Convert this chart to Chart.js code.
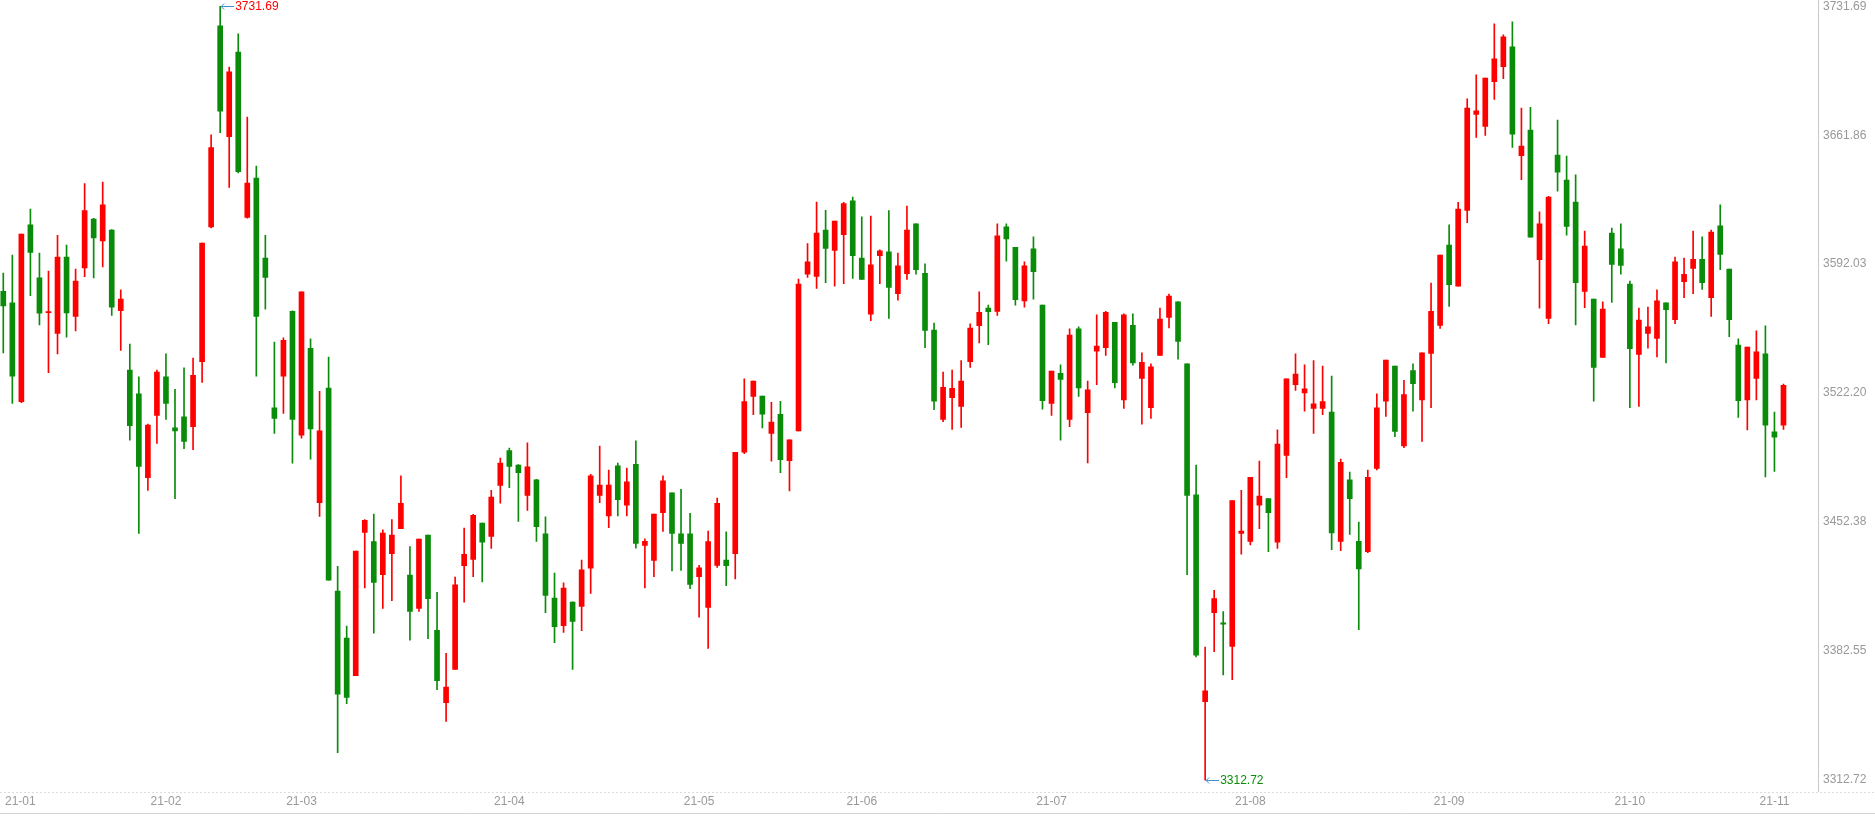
<!DOCTYPE html>
<html>
<head>
<meta charset="utf-8">
<script src="https://cdn.jsdelivr.net/npm/chart.js@4.4.1/dist/chart.umd.min.js"></script>
<style>
html,body{margin:0;padding:0;background:#fff;}
#wrap{width:1875px;height:816px;position:relative;}
</style>
</head>
<body>
<div id="wrap"><canvas id="c"></canvas></div>
<script>
// ---- categories (trading days, 2021) ----
const dates = [
'01-06','01-07','01-08','01-11','01-12','01-13','01-14','01-15','01-18','01-19','01-20','01-21','01-22','01-25','01-26','01-27','01-28','01-29',
'02-01','02-02','02-03','02-04','02-05','02-08','02-09','02-10','02-18','02-19','02-22','02-23','02-24','02-25','02-26',
'03-01','03-02','03-03','03-04','03-05','03-08','03-09','03-10','03-11','03-12','03-15','03-16','03-17','03-18','03-19','03-22','03-23','03-24','03-25','03-26','03-29','03-30','03-31',
'04-01','04-02','04-06','04-07','04-08','04-09','04-12','04-13','04-14','04-15','04-16','04-19','04-20','04-21','04-22','04-23','04-26','04-27','04-28','04-29','04-30',
'05-06','05-07','05-10','05-11','05-12','05-13','05-14','05-17','05-18','05-19','05-20','05-21','05-24','05-25','05-26','05-27','05-28','05-31',
'06-01','06-02','06-03','06-04','06-07','06-08','06-09','06-10','06-11','06-15','06-16','06-17','06-18','06-21','06-22','06-23','06-24','06-25','06-28','06-29','06-30',
'07-01','07-02','07-05','07-06','07-07','07-08','07-09','07-12','07-13','07-14','07-15','07-16','07-19','07-20','07-21','07-22','07-23','07-26','07-27','07-28','07-29','07-30',
'08-02','08-03','08-04','08-05','08-06','08-09','08-10','08-11','08-12','08-13','08-16','08-17','08-18','08-19','08-20','08-23','08-24','08-25','08-26','08-27','08-30','08-31',
'09-01','09-02','09-03','09-06','09-07','09-08','09-09','09-10','09-13','09-14','09-15','09-16','09-17','09-22','09-23','09-24','09-27','09-28','09-29','09-30',
'10-08','10-11','10-12','10-13','10-14','10-15','10-18','10-19','10-20','10-21','10-22','10-25','10-26','10-27','10-28','10-29',
'11-01','11-02'
];
const yearPrefix = '21';

// ---- series values ----
const opens = [
3577.3,3571.1,3517.6,3613.3,3584.6,3565.8,3554.5,3595.9,3563.8,3590.0,3616.5,3604.6,3610.5,3566.9,3534.7,3521.8,3476.4,3510.2,
3531.1,3503.4,3509.4,3504.0,3539.2,3612.2,3721.0,3661.0,3706.9,3617.3,3638.7,3595.3,3514.2,3531.4,3566.5,
3499.5,3546.5,3462.9,3524.9,3415.0,3389.6,3369.3,3446.8,3441.8,3424.0,3435.3,3448.8,3423.7,3405.7,3445.4,3393.8,3354.7,3372.7,3428.8,3432.2,3451.9,3444.6,3472.2,
3491.1,3483.2,3466.8,3475.3,3446.0,3411.3,3396.3,3409.1,3406.8,3427.4,3466.8,3455.8,3482.9,3461.5,3483.7,3439.8,3431.6,3457.5,3468.2,3446.0,3446.0,
3422.8,3406.2,3429.0,3431.9,3435.3,3490.2,3520.4,3520.6,3500.4,3510.8,3485.7,3501.8,3586.6,3585.4,3610.5,3599.5,3608.0,3626.3,
3595.3,3564.9,3596.7,3598.7,3576.1,3586.9,3613.9,3587.1,3556.4,3508.0,3519.8,3515.0,3539.2,3558.7,3568.2,3566.5,3612.2,3601.2,3572.2,3600.4,3569.9,
3516.7,3533.0,3508.0,3557.0,3511.6,3544.9,3546.8,3560.6,3518.6,3558.9,3530.2,3514.4,3542.6,3563.2,3571.6,3538.1,3467.1,3355.2,3403.4,3397.8,3385.1,3446.3,
3442.0,3461.5,3465.1,3441.5,3488.5,3526.8,3522.3,3513.9,3513.9,3511.9,3442.0,3475.3,3442.0,3436.4,3481.5,3517.8,3536.9,3493.6,3534.4,3518.6,3543.7,3558.9,
3602.4,3580.1,3621.2,3673.1,3666.6,3690.8,3699.0,3709.7,3650.8,3664.6,3594.5,3562.6,3651.1,3637.6,3625.7,3577.3,3573.1,3541.5,3608.8,3600.4,
3581.2,3543.2,3554.5,3551.9,3571.1,3562.0,3582.6,3589.7,3594.7,3573.9,3612.8,3589.4,3548.2,3518.6,3530.2,3543.5,
3501.2,3504.9
];
const highs = [
3587.2,3597.0,3608.3,3621.8,3598.1,3588.3,3607.7,3602.4,3589.4,3635.6,3616.8,3636.5,3610.8,3578.1,3548.8,3531.1,3505.4,3534.7,
3543.5,3524.3,3535.9,3541.2,3603.5,3662.1,3731.69,3698.7,3716.8,3671.7,3645.2,3607.7,3549.9,3552.2,3566.8,
3577.0,3551.6,3523.2,3541.8,3428.5,3396.1,3436.7,3453.8,3456.7,3448.2,3453.8,3477.5,3439.2,3443.2,3445.4,3414.4,3381.4,3422.6,3449.1,3456.6,3451.9,3469.6,3487.1,
3492.5,3483.5,3495.3,3475.5,3455.3,3424.8,3419.5,3409.3,3431.9,3478.3,3493.6,3480.6,3484.3,3481.7,3496.4,3443.4,3456.7,3477.5,3468.2,3470.2,3457.2,
3429.0,3447.6,3465.4,3447.1,3490.2,3529.9,3528.8,3520.6,3517.2,3517.8,3497.0,3584.0,3603.2,3625.7,3621.2,3615.3,3625.5,3628.3,
3617.6,3618.1,3599.8,3621.0,3598.1,3623.5,3613.9,3592.2,3560.1,3533.6,3534.7,3539.8,3559.8,3577.0,3569.9,3613.9,3613.9,3601.2,3593.3,3606.9,3569.9,
3534.2,3537.5,3557.0,3558.1,3528.8,3564.6,3566.5,3560.6,3565.2,3565.2,3544.0,3538.1,3568.2,3575.9,3571.6,3538.1,3483.2,3384.8,3415.5,3404.0,3464.0,3469.6,
3476.7,3485.4,3465.1,3502.3,3529.9,3543.5,3537.5,3539.8,3536.9,3531.4,3486.5,3479.5,3452.4,3480.6,3521.8,3540.1,3536.9,3529.1,3538.1,3544.0,3581.8,3597.0,
3613.3,3625.5,3681.5,3694.5,3692.8,3722.1,3716.2,3723.2,3676.5,3677.0,3620.4,3628.8,3670.0,3650.5,3640.4,3609.9,3573.1,3571.6,3611.6,3613.9,
3582.9,3568.2,3568.8,3578.1,3571.1,3595.9,3595.3,3609.9,3606.9,3610.5,3624.1,3589.4,3551.6,3547.1,3555.9,3558.7,
3511.9,3527.1
];
const lows = [
3544.0,3516.7,3517.0,3575.0,3559.2,3533.3,3543.5,3552.5,3555.9,3585.2,3584.6,3590.5,3564.3,3545.4,3496.7,3446.3,3469.6,3495.0,
3508.0,3465.1,3492.2,3491.6,3528.0,3611.6,3663.2,3633.6,3641.5,3617.0,3531.4,3567.7,3500.4,3511.3,3484.3,
3497.8,3486.5,3455.5,3420.9,3327.6,3354.1,3369.3,3416.7,3392.2,3405.7,3409.9,3448.8,3388.5,3404.0,3389.3,3361.7,3344.5,3372.7,3409.1,3422.8,3420.0,3438.1,3462.6,
3471.1,3452.7,3458.7,3442.0,3403.4,3387.1,3392.7,3372.7,3393.6,3413.8,3462.9,3449.4,3455.8,3455.8,3438.3,3416.7,3422.8,3447.4,3426.0,3426.2,3416.4,
3400.9,3384.0,3427.9,3418.0,3421.7,3489.4,3510.5,3503.4,3485.4,3479.2,3469.3,3501.8,3584.9,3578.9,3582.0,3580.1,3581.5,3584.3,
3583.8,3561.5,3581.5,3562.6,3572.5,3583.8,3586.6,3546.8,3513.3,3506.8,3502.6,3503.7,3536.1,3549.4,3548.5,3564.3,3593.6,3569.9,3568.8,3573.1,3513.6,
3510.2,3496.7,3504.0,3520.4,3484.5,3526.8,3542.6,3525.1,3513.9,3537.3,3505.4,3508.5,3542.6,3557.5,3540.6,3424.0,3379.4,3312.72,3382.3,3369.6,3367.1,3435.0,
3440.0,3448.8,3436.4,3438.1,3476.4,3523.7,3512.5,3500.4,3510.5,3437.5,3436.9,3445.7,3394.1,3435.8,3480.6,3509.6,3498.6,3492.7,3512.5,3496.1,3514.4,3557.3,
3569.1,3580.1,3614.5,3660.7,3661.8,3681.2,3692.5,3655.3,3637.8,3606.6,3568.2,3559.8,3631.6,3607.7,3559.2,3568.5,3517.8,3541.5,3571.3,3586.6,
3514.4,3515.0,3546.5,3541.8,3538.6,3559.8,3573.9,3576.1,3578.4,3563.8,3589.1,3552.8,3509.1,3502.3,3518.6,3476.9,
3479.8,3502.6
];
const closes = [
3569.4,3531.4,3608.3,3598.4,3565.5,3566.2,3595.9,3565.7,3582.9,3621.0,3606.3,3624.1,3568.8,3573.1,3504.6,3482.6,3504.9,3533.6,
3516.7,3501.8,3496.1,3531.9,3603.5,3655.1,3674.8,3696.2,3642.1,3635.9,3563.8,3584.9,3508.5,3550.8,3508.0,
3577.0,3502.9,3501.8,3420.9,3359.2,3357.5,3436.7,3453.3,3419.8,3446.5,3445.4,3462.6,3404.0,3443.2,3411.0,3366.5,3363.1,3418.4,3435.0,3456.1,3441.5,3466.0,3484.3,
3482.6,3479.2,3482.3,3449.9,3412.7,3395.8,3416.7,3398.6,3426.5,3477.5,3472.5,3472.5,3464.6,3474.2,3440.9,3442.0,3456.7,3474.7,3446.3,3440.9,3418.6,
3427.6,3441.8,3462.6,3428.8,3490.2,3517.6,3528.8,3510.8,3506.6,3486.2,3497.0,3581.2,3593.3,3608.8,3600.6,3615.3,3624.9,3596.7,
3583.8,3591.7,3599.2,3579.5,3591.1,3610.5,3589.1,3556.2,3517.8,3525.4,3524.8,3528.8,3557.5,3566.0,3566.3,3607.4,3605.7,3572.8,3591.1,3588.0,3518.1,
3534.2,3529.6,3553.6,3525.1,3524.0,3547.7,3566.0,3527.9,3564.6,3538.6,3538.9,3536.4,3562.3,3574.7,3550.2,3466.8,3380.3,3361.1,3411.0,3397.2,3464.0,3447.6,
3476.7,3466.5,3457.5,3494.7,3529.9,3532.5,3524.6,3516.4,3517.6,3446.5,3484.8,3465.1,3427.1,3476.7,3514.2,3540.1,3501.5,3521.5,3527.4,3544.0,3566.5,3597.0,
3580.9,3621.8,3676.5,3675.1,3692.8,3703.2,3715.1,3662.4,3655.9,3606.6,3613.9,3628.3,3641.8,3612.5,3582.0,3601.8,3536.1,3567.7,3591.9,3591.4,
3546.3,3561.8,3558.1,3572.2,3567.4,3593.3,3586.6,3594.7,3582.0,3609.4,3597.3,3562.0,3518.1,3547.1,3544.6,3504.9,
3498.4,3526.5
];

// ---- tick labels ----
const yTicks = [3312.72, 3382.55, 3452.38, 3522.20, 3592.03, 3661.86, 3731.69];

const UP = '#ff0000', DOWN = '#0a8c0a';
const colors = opens.map((o, i) => closes[i] >= o ? UP : DOWN);
const bodyData = dates.map((d, i) => ({x: i, y: [opens[i], closes[i]]}));
const wickData = dates.map((d, i) => ({x: i, y: [lows[i], highs[i]]}));

const FONT = '12px "Liberation Sans", Arial, sans-serif';

const decor = {
  id: 'decor',
  afterDraw(chart) {
    const ctx = chart.ctx, xs = chart.scales.x, ys = chart.scales.y, area = chart.chartArea;
    const W = chart.width;
    ctx.save();
    // x-axis band lines
    ctx.strokeStyle = '#dcdcdc'; ctx.lineWidth = 1;
    ctx.setLineDash([2, 2]);
    ctx.beginPath(); ctx.moveTo(0, Math.round(area.bottom) + 0.5); ctx.lineTo(W, Math.round(area.bottom) + 0.5); ctx.stroke();
    ctx.setLineDash([]);
    ctx.strokeStyle = '#d4d4d4';
    ctx.beginPath(); ctx.moveTo(0, 813.5); ctx.lineTo(W, 813.5); ctx.stroke();
    // month labels
    ctx.font = FONT; ctx.fillStyle = '#999999'; ctx.textBaseline = 'middle'; ctx.textAlign = 'center';
    let prev = null;
    dates.forEach((d, i) => {
      const m = d.slice(0, 2);
      if (m !== prev) {
        const txt = yearPrefix + '-' + m;
        const w = ctx.measureText(txt).width;
        let x = xs.getPixelForValue(i);
        x = Math.max(x, 5 + w / 2);
        ctx.fillText(txt, x, 802);
      }
      prev = m;
    });
    // max / min markers
    let hi = 0, lo = 0;
    highs.forEach((v, i) => { if (v > highs[hi]) hi = i; });
    lows.forEach((v, i) => { if (v < lows[lo]) lo = i; });
    const mark = (idx, val, col) => {
      const cx = xs.getPixelForValue(idx), cy = Math.round(ys.getPixelForValue(val)) + 0.5;
      ctx.strokeStyle = '#3f8fd2'; ctx.lineWidth = 1;
      ctx.beginPath(); ctx.moveTo(cx + 1, cy); ctx.lineTo(cx + 14, cy); ctx.stroke();
      ctx.beginPath(); ctx.moveTo(cx + 4, cy - 3); ctx.lineTo(cx + 1, cy); ctx.lineTo(cx + 4, cy + 3); ctx.stroke();
      ctx.fillStyle = col; ctx.textAlign = 'left'; ctx.textBaseline = 'middle';
      ctx.fillText(val.toFixed(2), cx + 15, cy + 0.5);
    };
    mark(hi, highs[hi], UP);
    mark(lo, lows[lo], DOWN);
    ctx.restore();
  }
};

new Chart(document.getElementById('c'), {
  type: 'bar',
  data: {
    datasets: [
      { label: 'body', data: bodyData, backgroundColor: colors, borderWidth: 0, barThickness: 5, minBarLength: 1, grouped: false },
      { label: 'wick', data: wickData, backgroundColor: colors, borderWidth: 0, barThickness: 1, grouped: false }
    ]
  },
  options: {
    responsive: true,
    maintainAspectRatio: false,
    animation: false,
    events: [],
    layout: { padding: 0, autoPadding: false },
    plugins: { legend: { display: false }, tooltip: { enabled: false } },
    scales: {
      x: {
        type: 'linear',
        offset: false,
        bounds: 'data',
        min: -0.365, max: 200.82,
        grid: { display: false, offset: false },
        border: { display: false },
        ticks: { display: false },
        afterFit(s) { s.height = 24.5; s.paddingLeft = 0; s.paddingRight = 0; }
      },
      y: {
        position: 'right',
        offset: false,
        min: 3306.55, max: 3735.05,
        grid: { display: false, drawTicks: false },
        border: { display: true, color: '#c8c8c8', dash: [2, 2] },
        afterBuildTicks(s) { s.ticks = yTicks.map(v => ({ value: v })); },
        ticks: {
          padding: 5,
          color: '#999999',
          font: { family: '"Liberation Sans", Arial, sans-serif', size: 12 },
          callback: v => Number(v).toFixed(2)
        },
        afterFit(s) { s.width = 57; s.paddingTop = 0; s.paddingBottom = 0; }
      }
    }
  },
  plugins: [decor]
});
</script>
</body>
</html>
